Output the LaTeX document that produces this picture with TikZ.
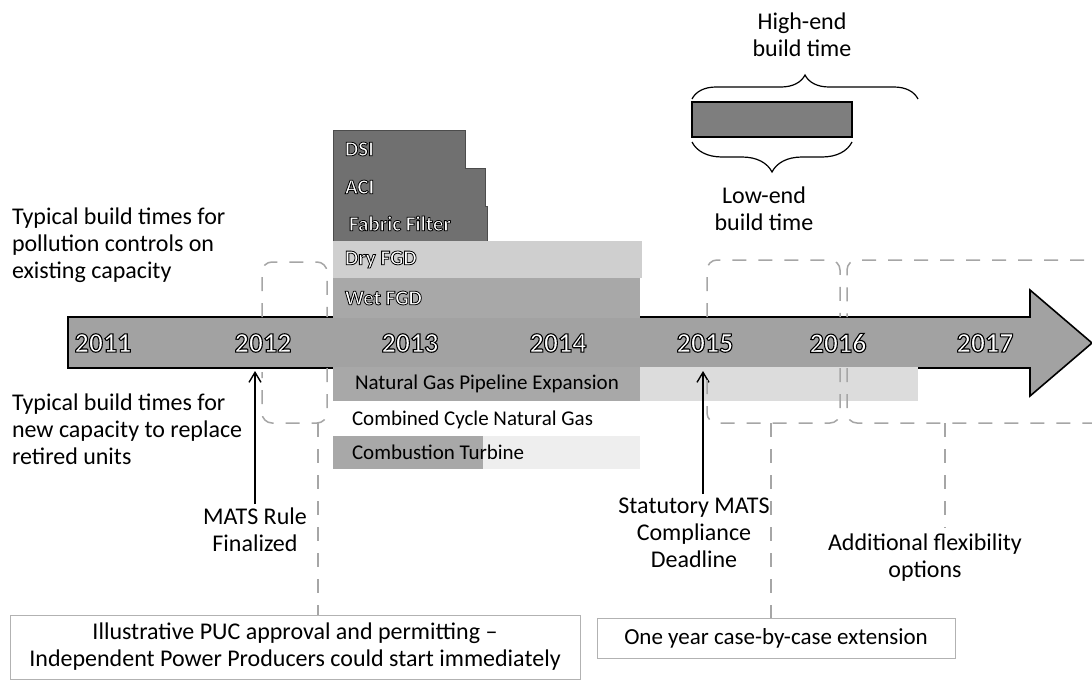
\documentclass[tikz,border=0pt]{standalone}
\usepackage{fontspec}
\setmainfont{Carlito}
\usepackage{xcolor}
\usepackage{tikz}
\usetikzlibrary{positioning, arrows.meta, decorations.pathreplacing}
\definecolor{darkbar}{HTML}{707070}
\definecolor{midbar}{HTML}{A8A8A8}
\definecolor{lightbar}{HTML}{CFCFCF}
\definecolor{palebar}{HTML}{DCDCDC}
\definecolor{faintbar}{HTML}{EEEEEE}
\definecolor{axisgray}{HTML}{A2A2A2}
\definecolor{dashgray}{HTML}{A6A6A6}
\newcommand{\ylab}[1]{\special{pdf:literal direct 1 g 0 G 0.55 w 2 Tr}#1\special{pdf:literal direct 0 Tr}}
\newcommand{\blab}[1]{\special{pdf:literal direct 1 g 0 G 0.4 w 2 Tr}#1\special{pdf:literal direct 0 Tr}}

\begin{document}
\begin{tikzpicture}[
  x=0.5pt, y=-0.5pt,
  every node/.style={inner sep=0pt, outer sep=0pt},
  txt/.style={font=\fontsize{12}{13.5}\selectfont, align=center},
  lefttxt/.style={font=\fontsize{12}{13.5}\selectfont, align=left, anchor=west},
  bar/.style={anchor=north west},
  yearlab/.style={font=\fontsize{14}{16}\selectfont\bfseries, text=white},
  barlab/.style={font=\fontsize{10.5}{12}\selectfont\bfseries, text=white, anchor=west},
  rowlab/.style={font=\fontsize{10.5}{12}\selectfont, anchor=west},
  notebox/.style={draw=gray!60, line width=0.5pt, font=\fontsize{12}{13.5}\selectfont, align=center},
  dashline/.style={draw=dashgray, line width=0.75pt, dash pattern=on 7pt off 6pt, rounded corners=5pt},
  pointer/.style={-{Straight Barb[length=5pt, width=6pt]}, line width=0.7pt, shorten <=2pt},
  brc/.style={decorate, decoration={brace, amplitude=#1}, line width=0.6pt}
]
\useasboundingbox (0,0) rectangle (1092,680);

\draw[line width=0.8pt, fill=axisgray] (68,317) -- (1030,317) -- (1030,290) -- (1092,343) -- (1030,396) -- (1030,368) -- (68,368) -- cycle;

\node[bar, fill=darkbar, minimum width=66pt, minimum height=19pt] (dsi) at (333,130) {};
\node[bar, fill=darkbar, minimum width=76pt, minimum height=19pt] (aci) at (333,168) {};
\node[bar, fill=darkbar, minimum width=77pt, minimum height=17.5pt] (ff) at (333,206) {};
\draw[black!70, line width=0.5pt] (dsi.north west) -- (dsi.north east) -- (dsi.south east) -- (aci.north east) -- (aci.south east) -- (ff.north east) -- (ff.south east) -- (ff.south west) -- cycle;
\node[bar, fill=lightbar, minimum width=154.5pt, minimum height=18.5pt] (dry) at (333,241) {};
\node[bar, fill=midbar, minimum width=153.5pt, minimum height=20pt] (wet) at (333,278) {};
\node[bar, fill=midbar, minimum width=153.5pt, minimum height=17pt] (pipe) at (333,367) {};
\node[bar, fill=palebar, minimum width=139pt, minimum height=17pt] (pipeext) at (640,367) {};
\node[bar, fill=midbar, minimum width=75pt, minimum height=16.5pt] (ct) at (333,436) {};
\node[bar, fill=faintbar, minimum width=78.5pt, minimum height=16.5pt] (ctext) at (483,436) {};

\node[barlab, right=6pt of dsi.west] (dsilab) {\blab{DSI}};
\node[barlab, right=6pt of aci.west] (acilab) {\blab{ACI}};
\node[barlab, right=8pt of ff.west] (fflab) {\blab{Fabric Filter}};
\node[barlab, right=6pt of dry.west] (drylab) {\blab{Dry FGD}};
\node[barlab, right=6pt of wet.west] (wetlab) {\blab{Wet FGD}};
\node[rowlab, right=11pt of pipe.west] (pipelab) {Natural Gas Pipeline Expansion};
\node[rowlab] (cclab) at (352,420) {Combined Cycle Natural Gas};
\node[rowlab, right=9.5pt of ct.west] (ctlab) {Combustion Turbine};

\node[yearlab] (y2011) at (103,343) {\ylab{2011}};
\node[yearlab] (y2012) at (263,343) {\ylab{2012}};
\node[yearlab] (y2013) at (410,343) {\ylab{2013}};
\node[yearlab] (y2014) at (558,343) {\ylab{2014}};
\node[yearlab] (y2015) at (705,343) {\ylab{2015}};
\node[yearlab] (y2016) at (838,343) {\ylab{2016}};
\node[yearlab] (y2017) at (985,343) {\ylab{2017}};

\node[bar, fill=darkbar!90, draw=black, line width=0.6pt, minimum width=80pt, minimum height=17.5pt] (keybox) at (692,102) {};
\coordinate (hiL) at (692,99);
\coordinate (hiR) at (918,99);
\coordinate (loL) at (692,142);
\coordinate (loR) at (852,142);
\draw[brc=12pt] (hiL) -- (hiR);
\draw[brc=15pt] (loR) -- (loL);
\node[txt] (hilab) at (802,35) {High-end\\build time};
\node[txt] (lolab) at (764,209) {Low-end\\build time};

\node[lefttxt] (ctrltxt) at (12,245) {Typical build times for\\pollution controls on\\existing capacity};
\node[lefttxt] (newtxt) at (12,429) {Typical build times for\\new capacity to replace\\retired units};

\node[txt] (rulelab) at (255,530) {MATS Rule\\Finalized};
\node[txt] (deadlab) at (694,533) {Statutory MATS\\Compliance\\Deadline};
\node[txt] (flexlab) at (925,558) {Additional flexibility\\options};
\node[notebox, minimum width=285pt, minimum height=32pt] (permitbox) at (295,647) {Illustrative PUC approval and permitting –\\Independent Power Producers could start immediately};
\node[notebox, font=\fontsize{11.5}{13.5}\selectfont, minimum width=179pt, minimum height=20pt] (extbox) at (776,638) {One year case-by-case extension};

\coordinate (ruletip) at (255,371);
\coordinate (deadtip) at (703,371);
\draw[pointer] (ruletip |- rulelab.north) -- (ruletip);
\draw[pointer] (deadtip |- deadlab.north) -- (deadtip);

\draw[dashline] (262,317) -- (262,262) -- (327,262) -- (327,317);
\draw[dashline] (327,368) -- (327,423) -- (262,423) -- (262,372);
\draw[dashline] (707,317) -- (707,260) -- (840,260) -- (840,317);
\draw[dashline] (840,368) -- (840,423) -- (707,423) -- (707,372);
\draw[dashline] (1110,260) -- (847,260) -- (847,317);
\draw[dashline] (847,368) -- (847,423) -- (1110,423);
\coordinate (permitjoin) at (318,423);
\coordinate (extjoin) at (771,423);
\coordinate (flexjoin) at (945,423);
\draw[dashline] (permitjoin) -- (permitjoin |- permitbox.north);
\draw[dashline] (extjoin) -- (extjoin |- extbox.north);
\draw[dashline] (flexjoin) -- ([yshift=3pt]flexjoin |- flexlab.north);
\end{tikzpicture}
\end{document}
